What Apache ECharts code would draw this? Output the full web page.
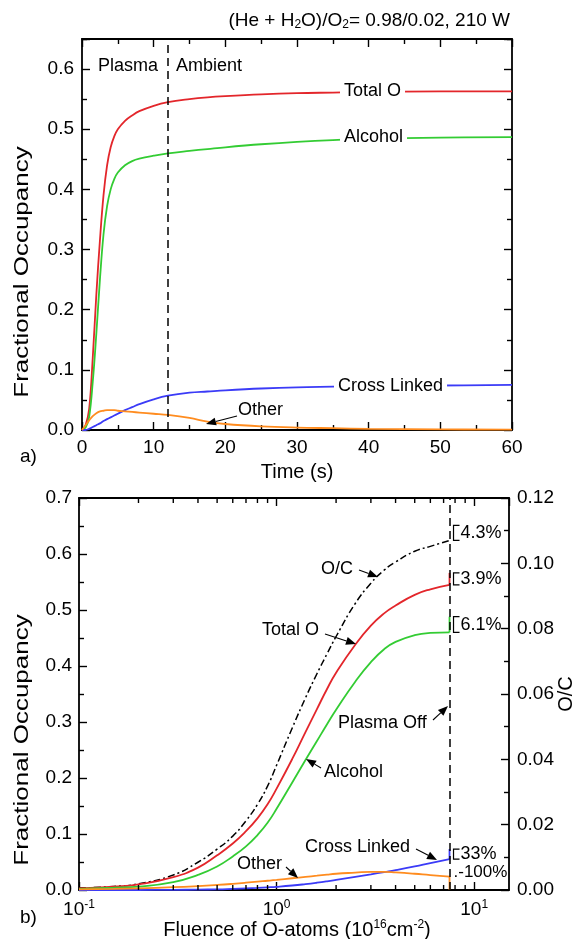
<!DOCTYPE html>
<html>
<head>
<meta charset="utf-8">
<script src="https://cdn.jsdelivr.net/npm/echarts@6/dist/echarts.min.js"></script>
<style>
  html, body { margin: 0; padding: 0; background: #fff; }
  #c { width: 579px; height: 939px; }
</style>
</head>
<body>
<div id="c"></div>
<script>
// ---------- Panel a: fractional occupancy vs time ----------
const timeA = [0, 0.5, 1, 1.5, 2, 2.5, 3, 3.5, 4, 4.5, 5, 6, 7, 8, 10, 12, 15, 17.5, 20, 25, 30, 35, 40, 50, 60];
const totalOA = [0, 0.008, 0.035, 0.12, 0.225, 0.315, 0.39, 0.44, 0.47, 0.488, 0.50, 0.514, 0.523, 0.530, 0.539, 0.545, 0.550, 0.553, 0.555, 0.558, 0.560, 0.561, 0.562, 0.563, 0.563];
const alcoholA = [0, 0.004, 0.022, 0.08, 0.16, 0.25, 0.325, 0.372, 0.40, 0.417, 0.428, 0.44, 0.447, 0.451, 0.456, 0.46, 0.464, 0.467, 0.470, 0.475, 0.479, 0.482, 0.484, 0.486, 0.487];
const crossA = [0, 0, 0.002, 0.005, 0.008, 0.011, 0.015, 0.018, 0.021, 0.024, 0.027, 0.033, 0.038, 0.043, 0.051, 0.057, 0.062, 0.064, 0.066, 0.069, 0.071, 0.072, 0.073, 0.074, 0.075];
const otherA = [0, 0.008, 0.016, 0.023, 0.028, 0.031, 0.032, 0.033, 0.033, 0.033, 0.032, 0.031, 0.030, 0.029, 0.027, 0.025, 0.020, 0.014, 0.010, 0.006, 0.004, 0.003, 0.002, 0.001, 0.0005];
const plasmaOffTime = 12;

// ---------- Panel b: fractional occupancy and O/C vs O-atom fluence ----------
const fluenceB = [0.1, 0.15, 0.2, 0.3, 0.4, 0.5, 0.6, 0.7, 0.8, 0.9, 1.0, 1.2, 1.4, 1.6, 1.8, 2.0, 2.5, 3.0, 3.5, 4.0, 5.0, 6.0, 7.5];
const totalOB = [0.003, 0.006, 0.010, 0.023, 0.040, 0.062, 0.083, 0.105, 0.128, 0.153, 0.181, 0.234, 0.282, 0.323, 0.359, 0.388, 0.438, 0.472, 0.494, 0.508, 0.527, 0.537, 0.545];
const alcoholB = [0.002, 0.004, 0.006, 0.014, 0.027, 0.042, 0.060, 0.078, 0.098, 0.120, 0.145, 0.192, 0.232, 0.266, 0.296, 0.322, 0.372, 0.407, 0.430, 0.443, 0.455, 0.459, 0.460];
const crossB = [0, 0, 0, 0.0003, 0.0007, 0.0012, 0.002, 0.0028, 0.0037, 0.0047, 0.0057, 0.008, 0.0105, 0.013, 0.0155, 0.018, 0.0235, 0.028, 0.032, 0.0355, 0.042, 0.048, 0.055];
const otherB = [0.001, 0.002, 0.003, 0.005, 0.007, 0.009, 0.011, 0.013, 0.015, 0.0165, 0.018, 0.021, 0.0235, 0.0255, 0.0275, 0.029, 0.031, 0.0325, 0.0325, 0.0315, 0.029, 0.0265, 0.024];
const ocB = [0.0006, 0.0011, 0.0019, 0.0046, 0.0085, 0.0125, 0.0165, 0.0212, 0.0262, 0.0318, 0.0382, 0.0496, 0.0588, 0.0662, 0.0723, 0.0776, 0.0877, 0.0939, 0.0979, 0.1004, 0.1037, 0.1052, 0.107];
const plasmaOffFluence = 7.5;
// relative change after the plasma is switched off (%)
const changeOC = 4.3, changeTotalO = 3.9, changeAlcohol = 6.1, changeCross = 33, changeOther = -100;
const minorTicksB = [0.2, 0.3, 0.4, 0.5, 0.6, 0.7, 0.8, 0.9, 2, 3, 4, 5, 6, 7, 8, 9];

const FONT = '"Liberation Sans", Arial, Helvetica, sans-serif';
const RED = '#e3262b', GREEN = '#33cc33', BLUE = '#3b3bf7', ORANGE = '#ff8c1f', BLACK = '#000';

const zip = (xs, ys) => xs.map((x, i) => [x, ys[i]]);
const last = a => a[a.length - 1];
const after = (v, pct) => v * (1 + pct / 100);

function axis(o) {
  return Object.assign({
    axisLine: { show: true, onZero: false, lineStyle: { color: '#000', width: 1.8 } },
    axisTick: { show: true, inside: true, length: 8, lineStyle: { color: '#000', width: 1.4 } },
    minorTick: { show: true, splitNumber: 2, length: 5, lineStyle: { color: '#000', width: 1.4 } },
    splitLine: { show: false },
    minorSplitLine: { show: false },
    axisLabel: { show: true, color: '#000', fontSize: 19, fontFamily: FONT, margin: 8 }
  }, o);
}
const noLabel = { show: false };

const logLabel = {
  show: true, color: '#000', fontFamily: FONT, margin: 9, showMaxLabel: false,
  formatter: v => '{b|10}{s|' + Math.round(Math.log10(v)) + '}',
  rich: {
    b: { fontSize: 19, fontFamily: FONT, color: '#000', lineHeight: 22 },
    s: { fontSize: 12, fontFamily: FONT, color: '#000', lineHeight: 12, verticalAlign: 'top' }
  }
};

function line(name, data, color, xi, yi, extra) {
  return Object.assign({
    name, type: 'line', data, xAxisIndex: xi, yAxisIndex: yi,
    showSymbol: false, symbol: 'none', smooth: 0.4, z: 3,
    lineStyle: { color, width: 1.8 }, itemStyle: { color }, animation: false
  }, extra || {});
}

// Brackets with the percentage change next to the plasma-off line
const bracketsLeft = [
  [plasmaOffFluence, last(totalOB), after(last(totalOB), changeTotalO), changeTotalO],
  [plasmaOffFluence, last(alcoholB), after(last(alcoholB), changeAlcohol), changeAlcohol],
  [plasmaOffFluence, last(crossB), after(last(crossB), changeCross), changeCross],
  [plasmaOffFluence, last(otherB), after(last(otherB), changeOther), changeOther]
];
const bracketsRight = [
  [plasmaOffFluence, last(ocB), after(last(ocB), changeOC), changeOC]
];
function renderBracket(params, api) {
  const p1 = api.coord([api.value(0), api.value(1)]);
  const p2 = api.coord([api.value(0), api.value(2)]);
  const pct = api.value(3);
  const x = p1[0];
  const children = [];
  if (pct > 0) {
    children.push({
      type: 'polyline',
      shape: { points: [[x + 10, p1[1]], [x + 4, p1[1]], [x + 4, p2[1]], [x + 10, p2[1]]] },
      style: { stroke: '#000', lineWidth: 1.2, fill: null }
    });
    children.push({
      type: 'text', x: x + 11, y: (p1[1] + p2[1]) / 2,
      style: { text: pct + '%', font: '18px ' + FONT, fill: '#000', verticalAlign: 'middle', align: 'left' }
    });
  } else {
    children.push({
      type: 'text', x: x + 4, y: p1[1] - 4,
      style: { text: '.' + pct + '%', font: '17px ' + FONT, fill: '#000', verticalAlign: 'middle', align: 'left' }
    });
  }
  return { type: 'group', children };
}
function renderMinorTicks(params, api) {
  const cs = params.coordSys;
  const x = api.coord([api.value(0), 0])[0];
  const bottom = cs.y + cs.height, top = cs.y;
  return {
    type: 'group', children: [
      { type: 'line', shape: { x1: x, y1: bottom, x2: x, y2: bottom - 5 }, style: { stroke: '#000', lineWidth: 1.4 } },
      { type: 'line', shape: { x1: x, y1: top, x2: x, y2: top + 5 }, style: { stroke: '#000', lineWidth: 1.4 } }
    ]
  };
}

const dashed = { type: [8, 5], color: '#000', width: 1.5 };
function vline(xv) {
  return {
    silent: true, symbol: ['none', 'none'], label: { show: false },
    lineStyle: dashed, data: [{ xAxis: xv }], animation: false
  };
}

// ---------- annotations ----------
function txt(text, x, y, opt) {
  return Object.assign({
    type: 'text', z: 100, x, y,
    style: Object.assign({ text, font: '18px ' + FONT, fill: '#000', align: 'left', verticalAlign: 'middle' }, (opt && opt.style) || {})
  }, (opt && opt.el) || {});
}
function masked(text, x, y) {
  return txt(text, x, y, { style: { backgroundColor: '#fff', padding: [0, 4, 0, 4] } });
}
function arrow(x1, y1, x2, y2) {
  const a = Math.atan2(y2 - y1, x2 - x1), L = 10, W = 4;
  const bx = x2 - L * Math.cos(a), by = y2 - L * Math.sin(a);
  const px = -Math.sin(a) * W, py = Math.cos(a) * W;
  return [
    { type: 'line', z: 100, shape: { x1, y1, x2: bx, y2: by }, style: { stroke: '#000', lineWidth: 1.1 } },
    { type: 'polygon', z: 100, shape: { points: [[x2, y2], [bx + px, by + py], [bx - px, by - py]] }, style: { fill: '#000' } }
  ];
}
const richSub = { d: { fontSize: 12, fontFamily: FONT, verticalAlign: 'bottom', lineHeight: 12, fill: '#000' } };
const richSup = { s: { fontSize: 12, fontFamily: FONT, verticalAlign: 'top', lineHeight: 12, fill: '#000' } };

const graphics = [
  txt('(He + H{d|2}O)/O{d|2}= 0.98/0.02, 210 W', 510, 21, { style: { align: 'right', font: '19px ' + FONT, rich: richSub, lineHeight: 20 } }),
  txt('Plasma', 98, 66),
  txt('Ambient', 176, 66),
  masked('Total O', 340, 91),
  masked('Alcohol', 340, 137),
  masked('Cross Linked', 334, 386),
  txt('Other', 238, 410),
  ...arrow(237, 416, 206, 424),
  txt('a)', 20, 457, { style: { font: '19px ' + FONT } }),
  txt('Time (s)', 297, 472, { style: { align: 'center', font: '20px ' + FONT } }),
  txt('Fractional Occupancy', 22, 272, { style: { align: 'center', font: '20px ' + FONT }, el: { rotation: Math.PI / 2, scaleX: 1.3 } }),

  txt('O/C', 321, 569),
  ...arrow(359, 570, 378, 577),
  txt('Total O', 262, 630),
  ...arrow(325, 634, 356, 644),
  txt('Plasma Off', 338, 723),
  ...arrow(433, 720, 448, 706),
  txt('Alcohol', 324, 772),
  ...arrow(321, 768, 306, 759),
  txt('Cross Linked', 305, 847),
  ...arrow(416, 849, 437, 860),
  txt('Other', 237, 864),
  ...arrow(286, 867, 298, 878),
  txt('b)', 20, 918, { style: { font: '19px ' + FONT } }),
  txt('Fluence of O-atoms (10{s|16}cm{s|-2})', 297, 930, { style: { align: 'center', font: '20px ' + FONT, rich: richSup, lineHeight: 22 } }),
  txt('Fractional Occupancy', 22, 740, { style: { align: 'center', font: '20px ' + FONT }, el: { rotation: Math.PI / 2, scaleX: 1.3 } }),
  txt('O/C', 566, 694, { style: { align: 'center', font: '20px ' + FONT }, el: { rotation: Math.PI / 2 } })
];

const option = {
  animation: false,
  backgroundColor: '#fff',
  textStyle: { fontFamily: FONT },
  grid: [
    { left: 82, top: 39, width: 430, height: 391 },
    { left: 79, top: 498, width: 430, height: 392 }
  ],
  xAxis: [
    axis({ gridIndex: 0, type: 'value', position: 'bottom', min: 0, max: 60, interval: 10 }),
    axis({ gridIndex: 0, type: 'value', position: 'top', min: 0, max: 60, interval: 10, axisLabel: noLabel }),
    axis({ gridIndex: 1, type: 'log', logBase: 10, position: 'bottom', min: 0.1, max: 15, minorTick: { show: false }, axisLabel: logLabel }),
    axis({ gridIndex: 1, type: 'log', logBase: 10, position: 'top', min: 0.1, max: 15, minorTick: { show: false }, axisLabel: noLabel })
  ],
  yAxis: [
    axis({ gridIndex: 0, type: 'value', position: 'left', min: 0, max: 0.65, interval: 0.1,
      axisLabel: { show: true, color: '#000', fontSize: 19, fontFamily: FONT, margin: 8, showMaxLabel: false, formatter: v => v.toFixed(1) } }),
    axis({ gridIndex: 0, type: 'value', position: 'right', min: 0, max: 0.65, interval: 0.1, axisLabel: noLabel }),
    axis({ gridIndex: 1, type: 'value', position: 'left', min: 0, max: 0.7, interval: 0.1,
      axisLabel: { show: true, color: '#000', fontSize: 19, fontFamily: FONT, margin: 7, formatter: v => v.toFixed(1) } }),
    axis({ gridIndex: 1, type: 'value', position: 'right', min: 0, max: 0.12, interval: 0.02,
      axisLabel: { show: true, color: '#000', fontSize: 19, fontFamily: FONT, margin: 8, formatter: v => v.toFixed(2) } })
  ],
  series: [
    // panel a
    line('Total O', zip(timeA, totalOA), RED, 0, 0, { markLine: vline(plasmaOffTime) }),
    line('Alcohol', zip(timeA, alcoholA), GREEN, 0, 0),
    line('Cross Linked', zip(timeA, crossA), BLUE, 0, 0),
    line('Other', zip(timeA, otherA), ORANGE, 0, 0),
    // panel b
    line('O/C', zip(fluenceB, ocB), BLACK, 2, 3, { smooth: 0.5, lineStyle: { color: BLACK, width: 1.5, type: [7, 3, 2, 3] }, markLine: vline(plasmaOffFluence) }),
    line('Total O b', zip(fluenceB, totalOB), RED, 2, 2, { smooth: 0.5 }),
    line('Alcohol b', zip(fluenceB, alcoholB), GREEN, 2, 2, { smooth: 0.5 }),
    line('Cross Linked b', zip(fluenceB, crossB), BLUE, 2, 2, { smooth: 0.5 }),
    line('Other b', zip(fluenceB, otherB), ORANGE, 2, 2, { smooth: 0.5 }),
    // jumps after the plasma is switched off
    line('Total O off', [[plasmaOffFluence, last(totalOB)], [plasmaOffFluence, after(last(totalOB), changeTotalO)]], RED, 2, 2, { smooth: false }),
    line('Alcohol off', [[plasmaOffFluence, last(alcoholB)], [plasmaOffFluence, after(last(alcoholB), changeAlcohol)]], GREEN, 2, 2, { smooth: false }),
    line('Cross Linked off', [[plasmaOffFluence, last(crossB)], [plasmaOffFluence, after(last(crossB), changeCross)]], BLUE, 2, 2, { smooth: false }),
    line('Other off', [[plasmaOffFluence, last(otherB)], [plasmaOffFluence, after(last(otherB), changeOther)]], ORANGE, 2, 2, { smooth: false }),
    {
      type: 'custom', name: 'change', xAxisIndex: 2, yAxisIndex: 2, z: 5, silent: true,
      renderItem: renderBracket, data: bracketsLeft, animation: false
    },
    {
      type: 'custom', name: 'change O/C', xAxisIndex: 2, yAxisIndex: 3, z: 5, silent: true,
      renderItem: renderBracket, data: bracketsRight, animation: false
    },
    {
      type: 'custom', name: 'log minor ticks', xAxisIndex: 2, yAxisIndex: 2, z: 5, silent: true,
      renderItem: renderMinorTicks, data: minorTicksB.map(v => [v, 0]), animation: false, clip: false
    }
  ],
  graphic: graphics
};

const chart = echarts.init(document.getElementById('c'), null, { renderer: 'canvas' });
chart.setOption(option);
</script>
</body>
</html>
